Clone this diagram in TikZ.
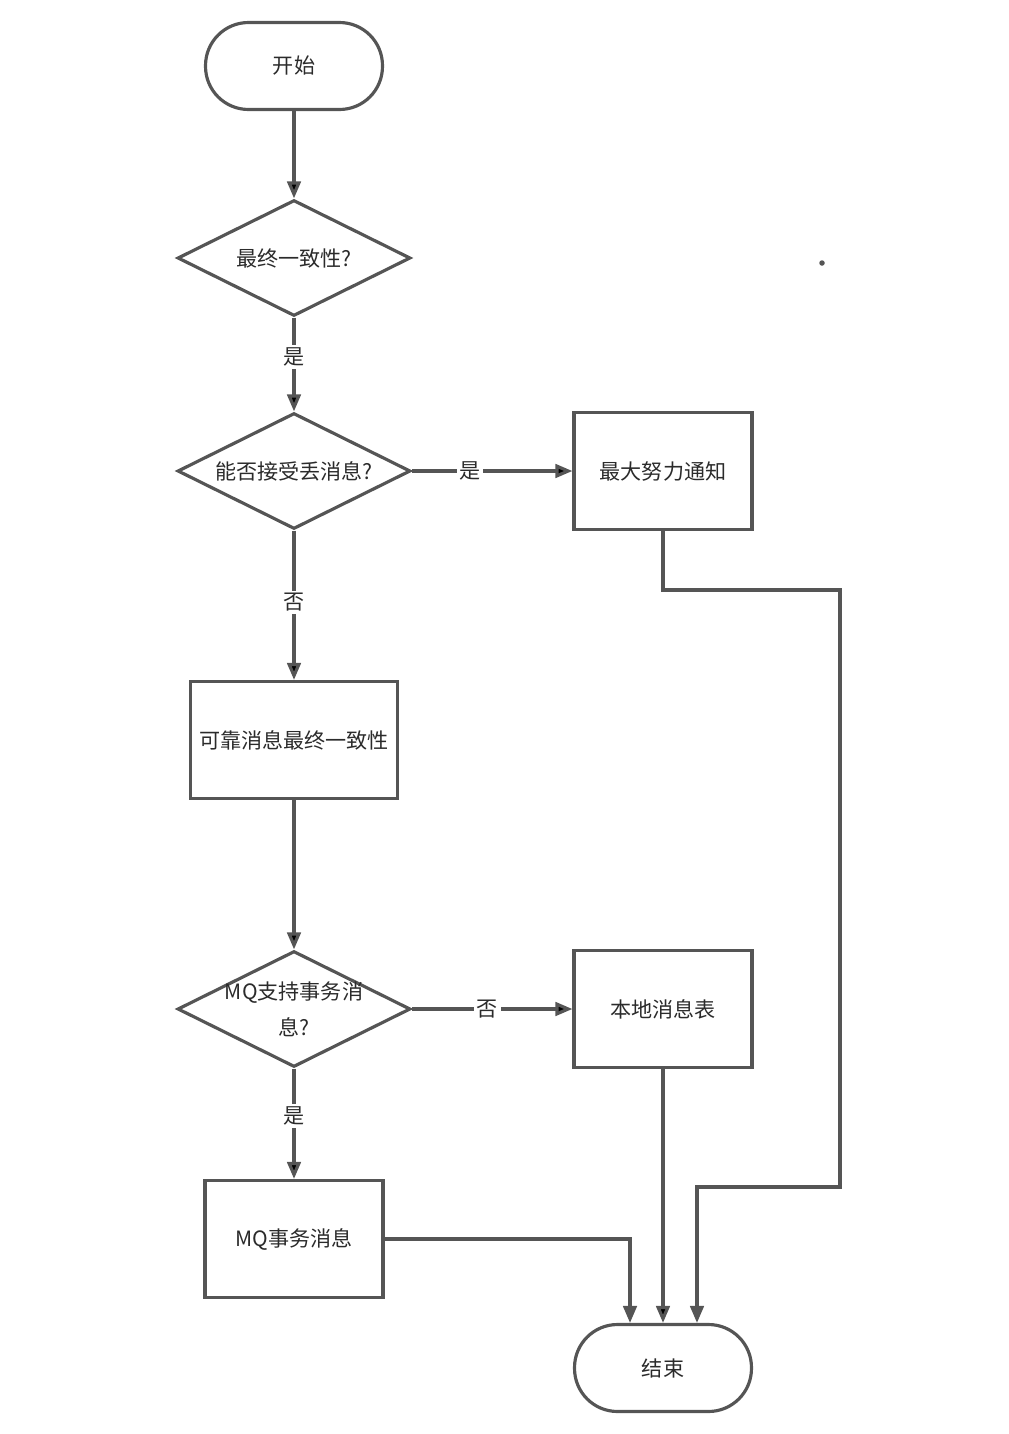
\documentclass[tikz,border=0pt]{standalone}
\usepackage{fontspec}
\setmainfont{Noto Sans CJK SC}
\usetikzlibrary{shapes.geometric}
\usetikzlibrary{arrows.meta}
\usetikzlibrary{calc}

\definecolor{lineGray}{HTML}{555555}
\definecolor{textGray}{HTML}{2B2B2B}

\begin{document}
\begin{tikzpicture}[x=0.02cm,y=-0.02cm,>={Triangle[length=0.34cm,width=0.27cm]},
	line width=1.8pt,
	every node/.style={font=\fontsize{12pt}{20.5pt}\selectfont,text=textGray},
	term node/.style={draw=lineGray,rounded corners=0.86cm,minimum width=3.54cm,minimum height=1.74cm},
	ask node/.style={draw=lineGray,diamond,aspect=2,minimum width=4.66cm,minimum height=2.32cm,inner sep=0pt},
	work node/.style={draw=lineGray,rectangle,minimum width=3.56cm,minimum height=2.34cm},
	flow/.style={->,draw=lineGray,line width=1.8pt},
	tag/.style={fill=white,inner sep=1.5pt}]
	
	\useasboundingbox (0,0) rectangle (1008,1434);
	
	\node[term node] (start) at (294,66) {开始};
	\node[ask node] (final) at (294,258) {最终一致性?};
	\node[ask node] (lossy) at (294,471) {能否接受丢消息?};
	\node[work node] (notify) at (663,471) {最大努力通知};
	\node[work node,minimum width=4.14cm] (reliable) at (294,740) {可靠消息最终一致性};
	\node[ask node,label={[align=center]center:MQ支持事务消\\息?}] (mqask) at (294,1009) {};
	\node[work node] (localtab) at (663,1009) {本地消息表};
	\node[work node] (mqmsg) at (294,1239) {MQ事务消息};
	\node[term node] (done) at (663,1368) {结束};
	
	\coordinate (turnA) at (840,590);
	\coordinate (turnB) at (840,1187);
	
	\path[flow]
	(start) edge (final)
	(final) edge node[tag,pos=0.42] {是} (lossy)
	(lossy) edge node[tag,pos=0.36] {是} (notify)
	(lossy) edge node[tag,pos=0.48] {否} (reliable)
	(reliable) edge (mqask)
	(mqask) edge node[tag,pos=0.47] {否} (localtab)
	(mqask) edge node[tag,pos=0.43] {是} (mqmsg)
	(localtab) edge (done)
	;
	
	\draw[flow] (mqmsg.east) -| ([xshift=-0.66cm]done.north);
	\draw[flow] (notify.south) |- (turnA) -- (turnB) -| ([xshift=0.68cm]done.north);
	
	\fill[lineGray] (822,263) circle (0.055cm);
\end{tikzpicture}
\end{document}
